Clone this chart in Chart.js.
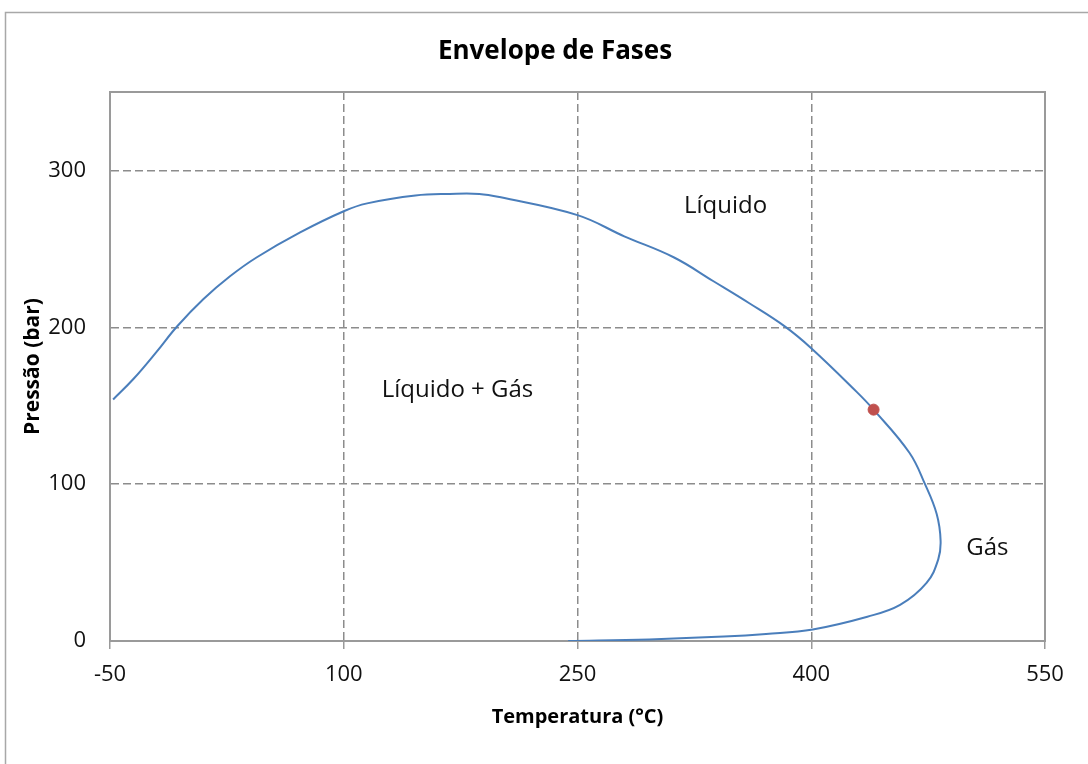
<!DOCTYPE html>
<html>
<head>
<meta charset="utf-8">
<title>Envelope de Fases</title>
<script src="https://cdn.jsdelivr.net/npm/chart.js@4/dist/chart.umd.min.js"></script>
<style>
  html, body { margin: 0; padding: 0; background: #fff; }
  #wrap { width: 1088px; height: 764px; }
</style>
</head>
<body>
<div id="wrap"><canvas id="envelope" width="1088" height="764"></canvas></div>
<script>
// curva de saturação (bolha + orvalho), T em °C e P em bar
const temperatura = [-48, -35, -20, -7, 10, 27, 44, 72, 100, 115, 146, 168, 187, 200, 250, 280, 312, 337, 360, 383, 400, 429, 440, 463, 473, 480.5, 483, 481.5, 474, 457, 436, 401, 371, 344, 296, 244];
const pressao = [154, 167, 184.5, 200.5, 218, 232.5, 244.5, 260.5, 274, 279, 284, 285, 285, 283, 271.5, 258, 244.5, 229.5, 215.5, 200.6, 186.7, 159, 147.5, 120, 100, 81, 64, 52, 37, 23, 15.5, 7.4, 4.5, 2.8, 1, 0];

// ponto crítico
const tCritico = [440];
const pCritico = [147.5];

const ticksT = [-50, 100, 250, 400, 550];
const ticksP = [0, 100, 200, 300];

// regiões do diagrama
const rotulos = ['Líquido', 'Líquido + Gás', 'Gás'];
const rotuloT = [345, 173, 513];
const rotuloP = [277, 160, 59];

const TITULO = 'Envelope de Fases';
const FONT = "'Open Sans', 'Noto Sans', sans-serif";
const GRAY = '#9a9a9a';
const GRID = '#8c8c8c';

const toXY = (xs, ys) => xs.map((x, i) => ({ x, y: ys[i] }));

// moldura externa, título centrado na moldura e borda da área de plotagem
const frame = {
    id: 'frame',
    beforeDraw(chart) {
        const ctx = chart.ctx;
        ctx.save();
        ctx.fillStyle = '#fff';
        ctx.fillRect(0, 0, chart.width, chart.height);
        ctx.strokeStyle = '#a8a8a8';
        ctx.lineWidth = 1.5;
        ctx.strokeRect(5.5, 12.5, chart.width + 20, chart.height + 20);
        ctx.fillStyle = '#000';
        ctx.font = 'bold 26px ' + FONT;
        ctx.textAlign = 'center';
        ctx.textBaseline = 'middle';
        ctx.fillText(TITULO, 555, 52);
        ctx.restore();
    },
    beforeDatasetsDraw(chart) {
        const { ctx, chartArea: a } = chart;
        ctx.save();
        ctx.strokeStyle = GRAY;
        ctx.lineWidth = 2;
        ctx.setLineDash([]);
        ctx.strokeRect(a.left, a.top, a.right - a.left, a.bottom - a.top);
        ctx.restore();
    }
};

const regioes = {
    id: 'regioes',
    afterDatasetsDraw(chart) {
        const { ctx, scales: { x, y } } = chart;
        ctx.save();
        ctx.font = '24px ' + FONT;
        ctx.fillStyle = '#111';
        ctx.textAlign = 'center';
        ctx.textBaseline = 'middle';
        rotulos.forEach((t, i) => ctx.fillText(t, x.getPixelForValue(rotuloT[i]), y.getPixelForValue(rotuloP[i])));
        ctx.restore();
    }
};

new Chart(document.getElementById('envelope'), {
    type: 'scatter',
    data: {
        datasets: [
            { label: 'Envelope', data: toXY(temperatura, pressao), showLine: true, borderColor: '#4a7ebb', borderWidth: 2, tension: 0.4, pointRadius: 0, order: 2 },
            { label: 'Ponto crítico', data: toXY(tCritico, pCritico), backgroundColor: '#c0504d', borderColor: '#c0504d', pointRadius: 5.5, order: 1 }
        ]
    },
    options: {
        responsive: false, animation: false, devicePixelRatio: 1,
        layout: { padding: { left: 0, right: 43, top: 92, bottom: 0 } },
        plugins: { legend: { display: false }, tooltip: { enabled: false } },
        scales: {
            x: {
                type: 'linear', min: -50, max: 550,
                afterBuildTicks: s => { s.ticks = ticksT.map(v => ({ value: v })); },
                afterFit: s => { s.height = 123; },
                ticks: { color: '#111', font: { family: FONT, size: 22 }, padding: 13 },
                grid: { color: GRID, lineWidth: 1.5, tickLength: 8, tickBorderDash: [], tickColor: GRAY },
                border: { color: GRAY, width: 2, dash: [8, 4] },
                title: { display: true, text: 'Temperatura (°C)', color: '#000', font: { family: FONT, size: 20, weight: 'bold' }, padding: { top: 35, bottom: 35 } }
            },
            y: {
                type: 'linear', min: 0, max: 350,
                afterBuildTicks: s => { s.ticks = ticksP.map(v => ({ value: v })); },
                afterFit: s => { s.width = 110; },
                ticks: { color: '#111', font: { family: FONT, size: 22 }, padding: 24 },
                grid: { color: GRID, lineWidth: 1.5, drawTicks: false },
                border: { color: GRAY, width: 2, dash: [8, 4] },
                title: { display: true, text: 'Pressão (bar)', color: '#000', font: { family: FONT, size: 21, weight: 'bold' }, padding: { top: 20, bottom: 20 } }
            }
        }
    },
    plugins: [frame, regioes]
});
</script>
</body>
</html>
